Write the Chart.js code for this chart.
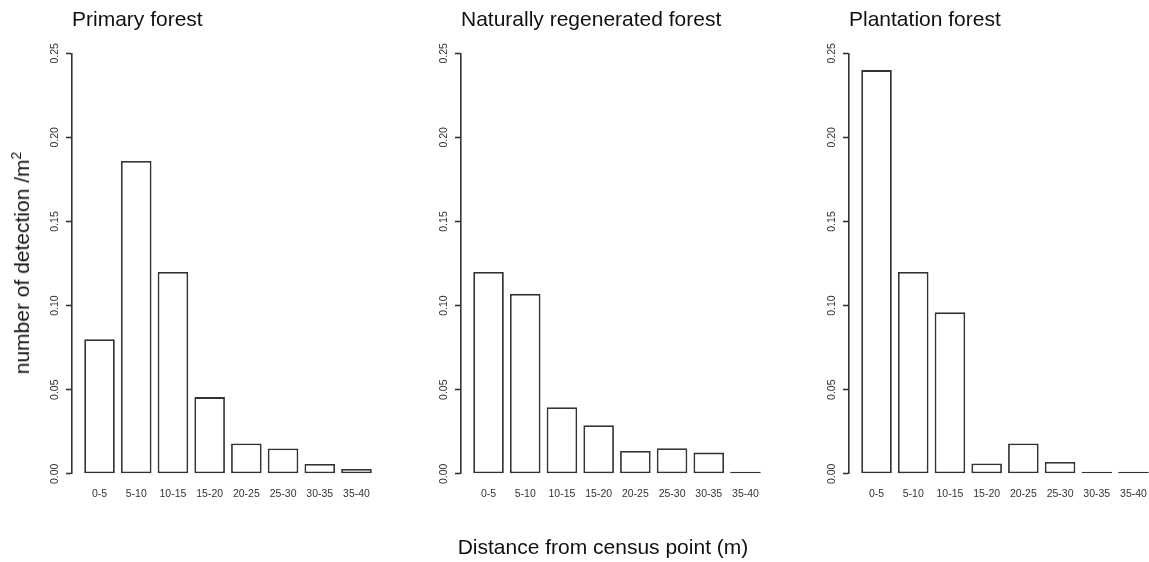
<!DOCTYPE html>
<html>
<head>
    <meta charset="utf-8">
    <script src="https://cdn.jsdelivr.net/npm/chart.js@4.4.1/dist/chart.umd.min.js"></script>
    <style>
        body {
            margin: 0;
            background: #fff;
        }

        #wrap {
            position: relative;
            width: 1149px;
            height: 562px;
            overflow: hidden;
            font-family: "Liberation Sans", Arial, sans-serif;
        }

        #wrap canvas {
            position: absolute;
            top: 0;
        }

        .axis-title {
            position: absolute;
            font-size: 21px;
            color: #111;
            white-space: nowrap;
        }

        #ytitle {
            left: 22px;
            top: 263px;
            transform: translate(-50%, -50%) rotate(-90deg);
        }

        #ytitle sup {
            font-size: 14px;
            line-height: 0;
        }

        #xtitle {
            left: 603px;
            top: 547px;
            transform: translate(-50%, -50%);
        }
    </style>
</head>

<body>
    <div id="wrap">
        <canvas id="c1" width="390" height="562" style="left:0px"></canvas>
        <canvas id="c2" width="390" height="562" style="left:389px"></canvas>
        <canvas id="c3" width="390" height="562" style="left:777px"></canvas>
        <div class="axis-title" id="ytitle">number of detection /m<sup>2</sup></div>
        <div class="axis-title" id="xtitle">Distance from census point (m)</div>
    </div>

    <script>
        // distance classes (m)
        const distanceBins = ['0-5', '5-10', '10-15', '15-20', '20-25', '25-30', '30-35', '35-40'];

        // detections per m2 in each class
        const primaryForest = [0.080, 0.186, 0.120, 0.0456, 0.018, 0.015, 0.0058, 0.0029];
        const regeneratedForest = [0.120, 0.107, 0.0396, 0.0289, 0.0136, 0.0152, 0.0126, 0];
        const plantationForest = [0.240, 0.120, 0.096, 0.0061, 0.018, 0.007, 0, 0];

        const yMax = 0.25;
        const yStep = 0.05;

        const ink = '#333333';
        const fontFamily = '"Liberation Sans", Arial, sans-serif';

        function makeChart(id, title, values) {
            const ctx = document.getElementById(id);
            return new Chart(ctx, {
                type: 'bar',
                data: {
                    datasets: [{
                        data: values.map((v, i) => ({ x: i, y: v })),
                        backgroundColor: '#ffffff',
                        borderColor: ink,
                        borderWidth: 1.8,
                        borderSkipped: false,
                        minBarLength: 2, // empty classes still show as a flat line
                        barPercentage: 0.833,
                        categoryPercentage: 1,
                        clip: 6
                    }]
                },
                options: {
                    responsive: false,
                    animation: false,
                    devicePixelRatio: 1,
                    layout: {
                        padding: { left: 32, right: 6, top: 0, bottom: 46.6 }
                    },
                    plugins: {
                        legend: { display: false },
                        tooltip: { enabled: false },
                        title: {
                            display: true,
                            text: title,
                            align: 'start',
                            fullSize: false,
                            color: '#111',
                            font: { family: fontFamily, size: 21, weight: 'normal' },
                            padding: { top: 8, bottom: 20.1 }
                        }
                    },
                    scales: {
                        x: {
                            type: 'linear',
                            offset: false,
                            min: -0.75,
                            max: distanceBins.length - 0.25,
                            border: { display: false },
                            grid: { display: false, drawTicks: false },
                            ticks: {
                                stepSize: 1,
                                includeBounds: false,
                                autoSkip: false,
                                maxRotation: 0,
                                padding: 14.5,
                                color: '#333',
                                font: { family: fontFamily, size: 10.5 },
                                callback: (v) => distanceBins[v] ?? ''
                            }
                        },
                        y: {
                            min: 0,
                            max: yMax,
                            afterFit: (scale) => { scale.width = 40; },
                            border: { display: true, color: ink, width: 1.6 },
                            grid: {
                                drawOnChartArea: false,
                                drawTicks: true,
                                tickLength: 6,
                                tickColor: ink,
                                tickWidth: 1.6
                            },
                            ticks: {
                                stepSize: yStep,
                                minRotation: 90,
                                maxRotation: 90,
                                crossAlign: 'center',
                                padding: 1,
                                color: '#333',
                                font: { family: fontFamily, size: 10.5 },
                                callback: (v) => v.toFixed(2)
                            }
                        }
                    }
                }
            });
        }

        makeChart('c1', 'Primary forest', primaryForest);
        makeChart('c2', 'Naturally regenerated forest', regeneratedForest);
        makeChart('c3', 'Plantation forest', plantationForest);
    </script>
</body>

</html>
